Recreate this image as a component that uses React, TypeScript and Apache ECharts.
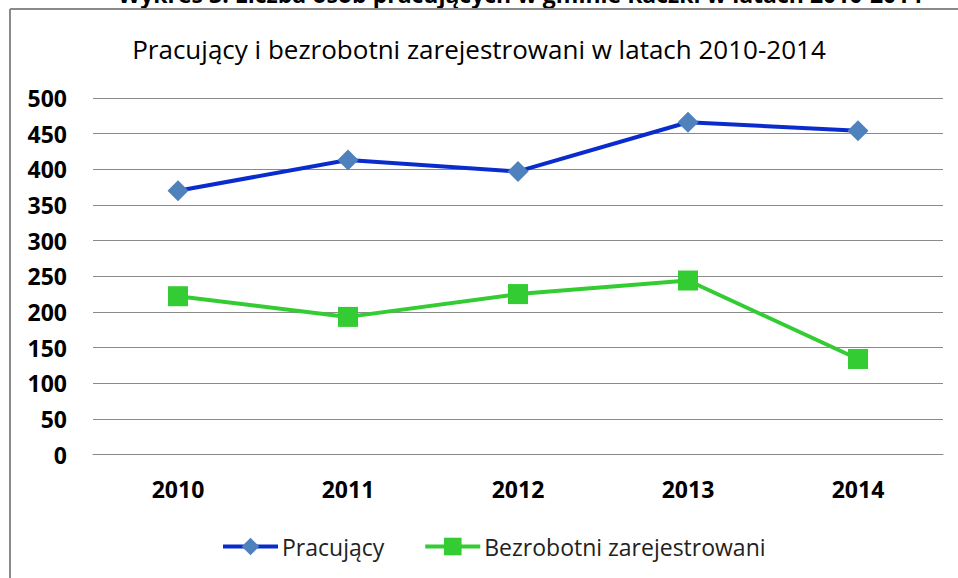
import React, { useEffect, useRef } from "react";
import * as echarts from "echarts";

const years = ["2010", "2011", "2012", "2013", "2014"];
const pracujacy = [370, 413, 397, 466, 454];
const bezrobotni = [222, 193, 225, 244, 134];
const yTicks = { min: 0, max: 500, interval: 50 };
const chartTitle = "Pracujący i bezrobotni zarejestrowani w latach 2010-2014";
const pageHeading = "Wykres 3. Liczba osób pracujących w gminie Raczki w latach 2010-2014";

const FONT = "'Open Sans', 'Noto Sans', sans-serif";

export default function App() {
  const ref = useRef<HTMLDivElement>(null);
  useEffect(() => {
    if (!ref.current) return;
    const chart = echarts.init(ref.current, null, { renderer: "svg" });
    chart.setOption({
      animation: false,
      backgroundColor: "#ffffff",
      textStyle: { fontFamily: FONT },
      title: {
        text: chartTitle,
        left: "center",
        top: 36,
        padding: 0,
        textStyle: { fontSize: 26, fontWeight: "normal", color: "#000", fontFamily: FONT },
      },
      graphic: [
        {
          type: "text",
          x: 118,
          y: -6,
          style: {
            text: pageHeading,
            fontSize: 23,
            fontWeight: "bold",
            fill: "#000",
            fontFamily: FONT,
            verticalAlign: "middle",
            align: "left",
          },
        },
        {
          type: "line",
          shape: { x1: 10, y1: 9, x2: 960, y2: 9 },
          style: { stroke: "#8a8a8a", lineWidth: 2 },
        },
        {
          type: "line",
          shape: { x1: 10, y1: 9, x2: 10, y2: 580 },
          style: { stroke: "#8a8a8a", lineWidth: 2 },
        },
      ],
      legend: {
        top: 535,
        left: 221,
        padding: 0,
        itemWidth: 55,
        itemHeight: 22,
        itemGap: 39,
        lineStyle: { width: 4 },
        textStyle: { fontSize: 23, color: "#222", fontFamily: FONT, padding: [0, 0, 0, -1] },
        data: ["Pracujący", "Bezrobotni zarejestrowani"],
      },
      grid: { left: 93, right: 15, top: 98, bottom: 123.5, containLabel: false },
      xAxis: {
        type: "category",
        data: years,
        boundaryGap: true,
        axisLine: { show: true, lineStyle: { color: "#8a8a8a", width: 1 } },
        axisTick: { show: false },
        axisLabel: { fontSize: 23, fontWeight: "bold", color: "#000", margin: 23, fontFamily: FONT },
      },
      yAxis: {
        type: "value",
        min: yTicks.min,
        max: yTicks.max,
        interval: yTicks.interval,
        axisLine: { show: false },
        axisTick: { show: false },
        axisLabel: { fontSize: 23, fontWeight: "bold", color: "#000", margin: 26, fontFamily: FONT },
        splitLine: { lineStyle: { color: "#8a8a8a", width: 1 } },
      },
      series: [
        {
          name: "Pracujący",
          type: "line",
          data: pracujacy,
          symbol: "diamond",
          symbolSize: 21,
          lineStyle: { color: "#0a2ccc", width: 4 },
          itemStyle: { color: "#4f81bd" },
        },
        {
          name: "Bezrobotni zarejestrowani",
          type: "line",
          data: bezrobotni,
          symbol: "rect",
          symbolSize: 20,
          lineStyle: { color: "#33cc33", width: 4 },
          itemStyle: { color: "#33cc33" },
        },
      ],
    });
    return () => chart.dispose();
  }, []);
  return (
    <div
      ref={ref}
      style={{ position: "fixed", left: 0, top: 0, width: 958, height: 578 }}
    />
  );
}
